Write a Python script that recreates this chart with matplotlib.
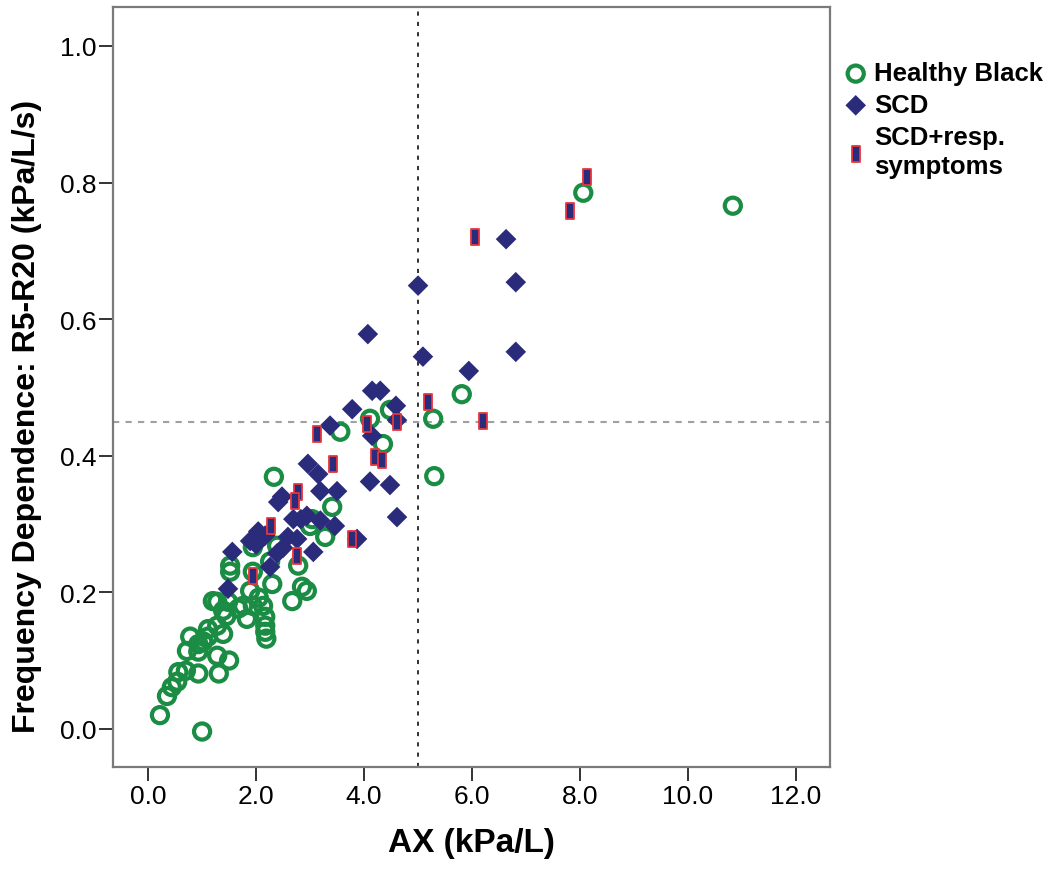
import numpy as np
import matplotlib
matplotlib.use('Agg')
import matplotlib.pyplot as plt
from matplotlib.path import Path

plt.rcParams['font.family'] = ['Liberation Sans', 'DejaVu Sans']

# Healthy Black (open green circles)
hb_x = [0.22, 1.00, 0.35, 0.44, 0.54, 0.56, 0.70, 0.93, 1.31, 0.78, 0.72, 0.93, 0.93,
        1.28, 1.50, 1.11, 1.28, 1.39, 2.17, 2.17, 2.19, 1.28, 1.48, 1.76, 1.94, 2.13,
        2.17, 1.52, 1.52, 1.94, 2.30, 2.67, 2.85, 2.94, 2.78, 2.26, 3.28, 1.94, 2.39,
        2.33, 3.04, 3.41, 3.00, 3.56, 4.11, 4.35, 4.48, 5.28, 5.30, 5.81, 8.06, 10.83,
        1.20, 1.39, 1.67, 1.83, 1.89, 1.11, 1.02, 1.45, 2.05]
hb_y = [0.020, -0.004, 0.048, 0.061, 0.069, 0.083, 0.085, 0.081, 0.081, 0.135, 0.114, 0.113, 0.124,
        0.107, 0.100, 0.146, 0.151, 0.139, 0.142, 0.151, 0.132, 0.186, 0.186, 0.180, 0.180, 0.180,
        0.164, 0.239, 0.230, 0.230, 0.212, 0.187, 0.208, 0.202, 0.239, 0.245, 0.281, 0.266, 0.268,
        0.369, 0.307, 0.325, 0.297, 0.435, 0.454, 0.417, 0.467, 0.454, 0.370, 0.490, 0.785, 0.766,
        0.187, 0.173, 0.176, 0.161, 0.202, 0.135, 0.128, 0.165, 0.192]

# SCD (navy diamonds)
scd_x = [5.00, 6.81, 5.09, 6.81, 5.94, 4.59, 4.30, 4.15, 4.48, 6.63, 3.78, 3.37, 4.15, 4.61,
         2.96, 3.15, 3.19, 3.50, 4.11, 4.61, 2.94, 3.19, 3.46, 3.87, 4.07, 2.48, 2.41, 2.69,
         2.04, 2.17, 2.59, 2.76, 1.89, 1.56, 2.39, 3.06, 2.26, 1.48, 2.83, 2.50, 2.00]
scd_y = [0.649, 0.654, 0.545, 0.552, 0.524, 0.473, 0.495, 0.495, 0.357, 0.717, 0.468, 0.444, 0.429, 0.452,
         0.388, 0.373, 0.348, 0.348, 0.362, 0.310, 0.312, 0.305, 0.297, 0.278, 0.578, 0.340, 0.332, 0.307,
         0.289, 0.283, 0.281, 0.278, 0.275, 0.259, 0.257, 0.259, 0.237, 0.205, 0.307, 0.265, 0.270]

# SCD + respiratory symptoms (small bars)
resp_x = [8.13, 7.81, 6.06, 5.19, 6.20, 4.61, 4.05, 3.13, 3.43, 4.20, 4.33, 2.78, 2.72,
          2.28, 2.76, 3.78, 1.94]
resp_y = [0.808, 0.758, 0.720, 0.479, 0.451, 0.449, 0.447, 0.432, 0.388, 0.398, 0.393, 0.347, 0.334,
          0.297, 0.253, 0.278, 0.224]

x_ticks = [0, 2, 4, 6, 8, 10, 12]
y_ticks = [0.0, 0.2, 0.4, 0.6, 0.8, 1.0]

green = '#1a8c43'
navy = '#2b2b7b'
red = '#e8343c'

# schmaler Balken als Marker
bar_marker = Path([(-0.23, -0.5), (0.23, -0.5), (0.23, 0.5), (-0.23, 0.5), (-0.23, -0.5)],
                  [Path.MOVETO, Path.LINETO, Path.LINETO, Path.LINETO, Path.CLOSEPOLY])

fig = plt.figure(figsize=(10.52, 8.7), dpi=100)
ax = fig.add_axes([0.1074, 0.1172, 0.6816, 0.8736])

ax.axvline(5.0, color='#222222', lw=1.3, ls=(0, (2.3, 3.4)), zorder=1)
ax.axhline(0.45, color='#a0a0a0', lw=1.5, ls=(0, (3, 3)), zorder=1)

ax.scatter(hb_x, hb_y, s=135, facecolors='none', edgecolors=green, linewidths=3.0,
           label='Healthy Black', zorder=2)
ax.scatter(scd_x, scd_y, s=110, marker='D', color=navy, edgecolors='none',
           label='SCD', zorder=3)
ax.scatter(resp_x, resp_y, s=125, marker=bar_marker, facecolors=navy, edgecolors=red,
           linewidths=1.3, label='SCD+resp.\nsymptoms', zorder=4)

ax.set_xlim(-0.65, 12.63)
ax.set_ylim(-0.056, 1.057)
ax.set_xticks(x_ticks)
ax.set_xticklabels([f'{v:.1f}' for v in x_ticks])
ax.set_yticks(y_ticks)
ax.set_yticklabels([f'{v:.1f}' for v in y_ticks])

for sp in ax.spines.values():
    sp.set_color('#7a7a7a')
    sp.set_linewidth(1.6)
ax.tick_params(direction='out', length=10, width=1.4, color='#333333', pad=2, labelsize=19)

ax.set_xlabel('AX (kPa/L)', fontsize=24, fontweight='bold', labelpad=14)
ax.set_ylabel('Frequency Dependence: R5-R20 (kPa/L/s)', fontsize=23, fontweight='bold')
ax.yaxis.set_label_coords(-0.099, 0.463)

leg = ax.legend(loc='upper left', bbox_to_anchor=(1.0, 0.942), frameon=False,
                fontsize=18.5, handletextpad=0.1, labelspacing=0.3, handlelength=1.2,
                borderaxespad=0.0)
for t in leg.get_texts():
    t.set_fontweight('bold')
    t.set_linespacing(1.3)

fig.savefig('out.png', dpi=100)
